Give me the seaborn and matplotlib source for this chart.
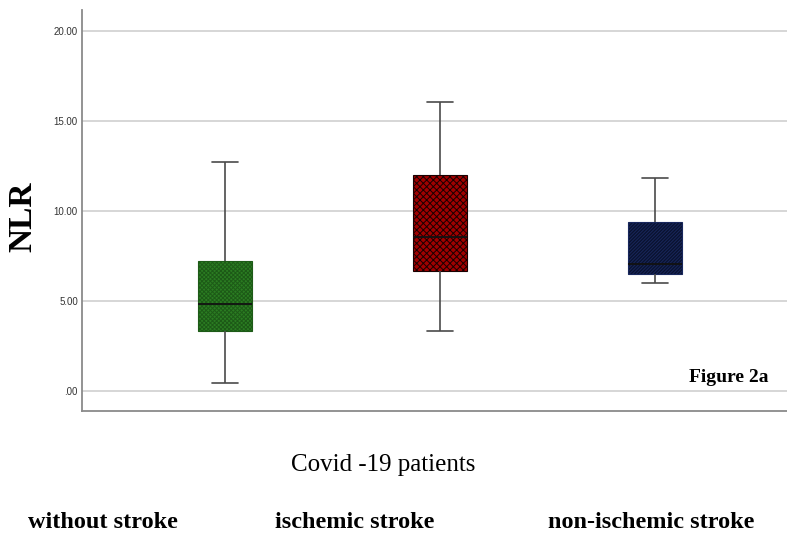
import numpy as np
import pandas as pd
import seaborn as sns
import matplotlib.pyplot as plt

# Five-number summaries (low whisker, Q1, median, Q3, high whisker)
groups = ['without stroke', 'ischemic stroke', 'non-ischemic stroke']
without_stroke = [0.44, 3.33, 4.83, 7.22, 12.72]
ischemic_stroke = [3.33, 6.67, 8.58, 12.0, 16.06]
non_ischemic_stroke = [6.0, 6.5, 7.05, 9.39, 11.83]
yticks = [0, 5, 10, 15, 20]
ytick_labels = ['.00', '5.00', '10.00', '15.00', '20.00']

fill_colors = ['#2b7d22', '#a00000', '#0a1230']
hatch_colors = ['#1d5a17', '#1a0000', '#18275c']
hatches = ['xxxxxxxx', 'xxxxx', '//////////']

df = pd.DataFrame({
    'group': np.repeat(groups, 5),
    'NLR': without_stroke + ischemic_stroke + non_ischemic_stroke,
})

sns.set_style('white')
plt.rcParams['hatch.linewidth'] = 0.7
fig = plt.figure(figsize=(7.87, 5.33), dpi=100)
ax = fig.add_axes([82 / 787, 1 - 411 / 533, 1 - 82 / 787, 401 / 533])

sns.boxplot(data=df, x='group', y='NLR', hue='group', palette=fill_colors,
            order=groups, width=0.25, whis=np.inf, saturation=1,
            linecolor='#4a4a4a', linewidth=1.2, legend=False, ax=ax,
            medianprops={'color': '#111111', 'linewidth': 1.3})

# hatch pattern per box (hatch takes the edge colour)
for patch, h, hc in zip(ax.patches, hatches, hatch_colors):
    patch.set_hatch(h)
    patch.set_edgecolor(hc)
    patch.set_linewidth(0.8)

ax.set_xlim(-0.665, 2.614)
ax.set_ylim(-1.11, 21.17)
ax.set_yticks(yticks)
ax.set_yticklabels(ytick_labels, fontsize=7, family='Liberation Sans', color='#333333')
ax.set_xticks([])
ax.set_xlabel('')
ax.set_ylabel('')
ax.tick_params(axis='y', length=0, pad=3)
ax.yaxis.grid(True, color='#d6d6d6', linewidth=1.4)
ax.set_axisbelow(True)
for side in ['top', 'right']:
    ax.spines[side].set_visible(False)
for side in ['left', 'bottom']:
    ax.spines[side].set_color('#8a8a8a')
    ax.spines[side].set_linewidth(1.3)

fig.text(23 / 787, 1 - 217 / 533, 'NLR', rotation=90, ha='center', va='center',
         family='Liberation Serif', fontweight='bold', fontsize=24, color='black')
fig.text(729 / 787, 1 - 377 / 533, 'Figure 2a', ha='center', va='center',
         family='Liberation Serif', fontweight='bold', fontsize=14, color='black')
fig.text(383 / 787, 1 - 465 / 533, 'Covid -19 patients', ha='center', va='center',
         family='Liberation Serif', fontsize=18, color='black')
label_x = [103, 355, 651]
for lx, g in zip(label_x, groups):
    fig.text(lx / 787, 1 - 522 / 533, g, ha='center', va='center',
             family='Liberation Serif', fontweight='bold', fontsize=17.5, color='black')

fig.savefig('out.png', dpi=100)
